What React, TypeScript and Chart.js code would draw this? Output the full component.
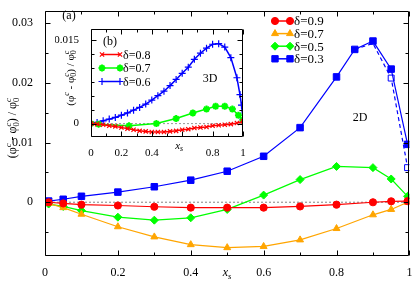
import React, { useEffect, useRef } from 'react';
import { Chart, registerables } from 'chart.js';
import { drawPoint } from 'chart.js/helpers';

Chart.register(...registerables);

const FONT = "'Liberation Serif', 'DejaVu Serif', serif";

// ---------- panel (a): 2D ----------
const xs09 = [0.01, 0.05, 0.1, 0.2, 0.3, 0.4, 0.5, 0.6, 0.7, 0.8, 0.9, 0.95, 0.995];
const d09 = [0, -0.0002, -0.0004, -0.00054, -0.00075, -0.0009, -0.0009, -0.0009, -0.0007, -0.0004, 0, 0.00016, 0.0002];
const xs07 = [0.01, 0.05, 0.1, 0.2, 0.3, 0.4, 0.5, 0.6, 0.7, 0.8, 0.9, 0.95, 0.995];
const d07 = [-0.0002, -0.0009, -0.002, -0.0041, -0.0058, -0.0071, -0.0076, -0.0074, -0.0063, -0.0044, -0.0021, -0.0012, 0];
const xs05 = [0.01, 0.05, 0.1, 0.2, 0.3, 0.4, 0.5, 0.6, 0.7, 0.8, 0.9, 0.95, 0.995];
const d05 = [-0.0003, -0.0007, -0.0014, -0.0025, -0.003, -0.0026, -0.0012, 0.0012, 0.0038, 0.006, 0.0058, 0.0039, 0.001];
const xs03 = [0.01, 0.05, 0.1, 0.2, 0.3, 0.4, 0.5, 0.6, 0.7, 0.8, 0.85, 0.9, 0.95, 0.995];
const d03 = [0.0002, 0.0005, 0.001, 0.0017, 0.0026, 0.0037, 0.0052, 0.0077, 0.0125, 0.021, 0.0256, 0.027, 0.0223, 0.0097];
const xs03b = [0.85, 0.9, 0.95, 0.995];
const d03b = [0.0256, 0.0266, 0.0208, 0.0058];
const zeroX = [0, 1];
const zeroY = [0, 0];

const mainXTicks = [0, 0.1, 0.2, 0.3, 0.4, 0.5, 0.6, 0.7, 0.8, 0.9, 1];
const mainXLabels = ['0', '', '0.2', '', '0.4', '', '0.6', '', '0.8', '', '1'];
const mainYTicks = [-0.005, 0, 0.005, 0.01, 0.015, 0.02, 0.025, 0.03];
const mainYLabels = ['', '0', '', '0.01', '', '0.02', '', '0.03'];
const mainLegend = ['δ=0.9', 'δ=0.7', 'δ=0.5', 'δ=0.3'];

// ---------- panel (b): 3D inset ----------
const in08X = [0, 0.04, 0.08, 0.12, 0.16, 0.2, 0.24, 0.28, 0.32, 0.36, 0.4, 0.44, 0.48, 0.52, 0.56, 0.6, 0.64, 0.68, 0.72, 0.76, 0.8, 0.84, 0.88, 0.92, 0.96, 1.0];
const in08Y = [0, -0.0001, -0.0002, -0.0004, -0.0005, -0.0007, -0.0009, -0.0011, -0.0013, -0.0014, -0.0015, -0.0015, -0.0015, -0.0014, -0.0013, -0.0011, -0.001, -0.0008, -0.0007, -0.0006, -0.0004, -0.0003, -0.0002, -0.0001, 0.0001, 0.0004];
const in07X = [0, 0.05, 0.25, 0.43, 0.56, 0.67, 0.76, 0.82, 0.88, 0.93, 0.97, 1.0];
const in07Y = [0, -0.0001, -0.0004, 0, 0.0009, 0.0019, 0.0026, 0.0031, 0.0031, 0.0026, 0.0015, 0.0006];
const in06X = [0, 0.04, 0.08, 0.12, 0.16, 0.2, 0.24, 0.28, 0.32, 0.36, 0.4, 0.44, 0.48, 0.52, 0.56, 0.6, 0.64, 0.68, 0.72, 0.76, 0.8, 0.84, 0.88, 0.92, 0.96, 0.98, 0.99, 1.0];
const in06Y = [0, 0.0002, 0.0005, 0.0008, 0.0011, 0.0015, 0.0019, 0.0024, 0.0029, 0.0035, 0.0042, 0.005, 0.0058, 0.0068, 0.0079, 0.009, 0.0101, 0.0115, 0.0126, 0.0135, 0.0142, 0.0143, 0.0137, 0.0118, 0.0082, 0.0052, 0.0033, 0.0008];

const inXTicks = [0, 0.1, 0.2, 0.3, 0.4, 0.5, 0.6, 0.7, 0.8, 0.9, 1];
const inXLabels = ['0', '', '0.2', '', '0.4', '', 'x_s', '', '0.8', '', '1'];
const inXMajor = [1, 0, 1, 0, 1, 0, 1, 0, 1, 0, 1];
const inYTicks = [0, 0.0025, 0.005, 0.0075, 0.01, 0.0125, 0.015];
const inYLabels = ['0', '', '', '', '', '', '0.015'];
const inLegend = ['δ=0.8', 'δ=0.7', 'δ=0.6'];

const RED = '#ff0000';
const ORANGE = '#ffa500';
const GREEN = '#00ff00';
const BLUE = '#0000ff';

const pts = (xs: number[], ys: number[]) => xs.map((x, i) => ({ x, y: ys[i] }));

type Seg = [string, string];
function drawRich(ctx: CanvasRenderingContext2D, segs: Seg[], cx: number, cy: number, size: number, rot: number) {
  const small = size * 0.72;
  const fN = `${size}px ${FONT}`;
  const fS = `${small}px ${FONT}`;
  const fSI = `italic ${small}px ${FONT}`;
  const fI = `italic ${size}px ${FONT}`;
  const widthOf = (s: Seg) => {
    const [t, k] = s;
    if (k === 'n') { ctx.font = fN; return ctx.measureText(t).width; }
    if (k === 'i') { ctx.font = fI; return ctx.measureText(t).width; }
    if (k === 'sup') { ctx.font = fSI; return ctx.measureText(t).width; }
    if (k === 'subi') { ctx.font = fSI; return ctx.measureText(t).width; }
    if (k === 'ss') {
      const [a, b] = t.split('|');
      ctx.font = fS; const wa = ctx.measureText(a).width;
      ctx.font = fSI; const wb = ctx.measureText(b).width;
      return Math.max(wa, wb);
    }
    return 0;
  };
  const total = segs.reduce((s, g) => s + widthOf(g), 0);
  ctx.save();
  ctx.translate(cx, cy);
  ctx.rotate(rot);
  ctx.fillStyle = '#000';
  ctx.textBaseline = 'alphabetic';
  ctx.textAlign = 'left';
  let x = -total / 2;
  const base = size * 0.33;
  for (const g of segs) {
    const [t, k] = g;
    const w = widthOf(g);
    if (k === 'n') { ctx.font = fN; ctx.fillText(t, x, base); }
    else if (k === 'i') { ctx.font = fI; ctx.fillText(t, x, base); }
    else if (k === 'sup') { ctx.font = fSI; ctx.fillText(t, x, base - size * 0.42); }
    else if (k === 'subi') { ctx.font = fSI; ctx.fillText(t, x, base + size * 0.25); }
    else if (k === 'ss') {
      const [a, b] = t.split('|');
      ctx.font = fS; ctx.fillText(a, x, base + size * 0.25);
      ctx.font = fSI; ctx.fillText(b, x, base - size * 0.42);
    }
    x += w;
  }
  ctx.restore();
}

const yTitle: Seg[] = [['(φ', 'n'], ['c', 'sup'], [' - φ', 'n'], ['0|c', 'ss'], [') / φ', 'n'], ['0|c', 'ss']];
const xTitle: Seg[] = [['x', 'i'], ['s', 'subi']];

function frame(chart: any, xt: number[], xMaj: boolean[], yt: number[], yMaj: boolean[], maj: number, min: number) {
  const { ctx, chartArea: a } = chart;
  const sx = chart.scales.x;
  const sy = chart.scales.y;
  ctx.save();
  ctx.strokeStyle = '#000';
  ctx.lineWidth = 1;
  const L = Math.round(a.left) + 0.5;
  const R = Math.round(a.right) - 0.5;
  const T = Math.round(a.top) + 0.5;
  const B = Math.round(a.bottom) - 0.5;
  ctx.beginPath();
  ctx.rect(L, T, R - L, B - T);
  xt.forEach((v, i) => {
    const p = Math.round(sx.getPixelForValue(v)) + 0.5;
    const len = xMaj[i] ? maj : min;
    ctx.moveTo(p, B); ctx.lineTo(p, B - len);
    ctx.moveTo(p, T); ctx.lineTo(p, T + len);
  });
  yt.forEach((v, i) => {
    const p = Math.round(sy.getPixelForValue(v)) + 0.5;
    const len = yMaj[i] ? maj : min;
    ctx.moveTo(L, p); ctx.lineTo(L + len, p);
    ctx.moveTo(R, p); ctx.lineTo(R - len, p);
  });
  ctx.stroke();
  ctx.restore();
}

type LegItem = { label: string; color: string; style: string; radius: number; bw: number; fill: boolean };
function legend(ctx: CanvasRenderingContext2D, items: LegItem[], x0: number, x1: number, tx: number, y0: number, dy: number, size: number) {
  items.forEach((it, i) => {
    const y = y0 + i * dy;
    ctx.save();
    ctx.strokeStyle = it.color;
    ctx.lineWidth = 1.5;
    ctx.beginPath(); ctx.moveTo(x0, y); ctx.lineTo(x1, y); ctx.stroke();
    ctx.fillStyle = it.fill ? it.color : '#fff';
    ctx.lineWidth = it.bw;
    drawPoint(ctx, { pointStyle: it.style as any, radius: it.radius, rotation: 0, borderWidth: it.bw } as any, x0, y);
    drawPoint(ctx, { pointStyle: it.style as any, radius: it.radius, rotation: 0, borderWidth: it.bw } as any, x1, y);
    ctx.fillStyle = '#000';
    ctx.font = `${size}px ${FONT}`;
    ctx.textBaseline = 'middle';
    ctx.textAlign = 'left';
    ctx.fillText(it.label, tx, y + 1);
    ctx.restore();
  });
}

function lineDs(xs: number[], ys: number[], color: string, style: string, radius: number, extra: any = {}) {
  return {
    data: pts(xs, ys),
    borderColor: color,
    backgroundColor: color,
    borderWidth: 1.2,
    pointStyle: style,
    pointRadius: radius,
    pointBorderWidth: 1,
    pointBorderColor: color,
    pointBackgroundColor: color,
    tension: 0,
    ...extra,
  };
}

export default function App() {
  const mainRef = useRef<HTMLCanvasElement>(null);
  const insetRef = useRef<HTMLCanvasElement>(null);

  useEffect(() => {
    const tickFont = { family: FONT, size: 12 };
    const mainPlugin = {
      id: 'mainDeco',
      afterDraw(chart: any) {
        const ctx = chart.ctx as CanvasRenderingContext2D;
        frame(chart, mainXTicks, mainXLabels.map((l) => l !== ''), mainYTicks, mainYLabels.map((l) => l !== ''), 5, 3);
        drawRich(ctx, yTitle, 12, 128, 12, -Math.PI / 2);
        drawRich(ctx, xTitle, 227, 272, 12, 0);
        ctx.save();
        ctx.fillStyle = '#000';
        ctx.font = `12px ${FONT}`;
        ctx.textAlign = 'center';
        ctx.textBaseline = 'middle';
        ctx.fillText('(a)', 69, 16);
        ctx.fillText('2D', 360, 118);
        ctx.restore();
        legend(ctx, [
          { label: mainLegend[0], color: RED, style: 'circle', radius: 3.6, bw: 1, fill: true },
          { label: mainLegend[1], color: ORANGE, style: 'triangle', radius: 4, bw: 1, fill: true },
          { label: mainLegend[2], color: GREEN, style: 'rectRot', radius: 4, bw: 1, fill: true },
          { label: mainLegend[3], color: BLUE, style: 'rect', radius: 4.5, bw: 1, fill: true },
        ], 275, 290, 294, 21, 12.6, 13);
      },
    };
    const main = new Chart(mainRef.current as HTMLCanvasElement, {
      type: 'line',
      data: {
        datasets: [
          lineDs(xs09, d09, RED, 'circle', 3.6),
          lineDs(xs07, d07, ORANGE, 'triangle', 4),
          lineDs(xs05, d05, GREEN, 'rectRot', 4),
          lineDs(xs03, d03, BLUE, 'rect', 4.6),
          lineDs(xs03b, d03b, BLUE, 'rect', 4.2, { borderDash: [4, 3], pointBackgroundColor: '#fff', pointRadius: [0, 0, 4.2, 4.2] }),
          lineDs(zeroX, zeroY, '#999999', 'circle', 0, { borderDash: [2, 2], borderWidth: 1.2 }),
        ] as any,
      },
      options: {
        animation: false,
        responsive: false,
        devicePixelRatio: 1,
        layout: { padding: { left: 0, right: 5, top: 1, bottom: 0 } },
        plugins: { legend: { display: false }, tooltip: { enabled: false } },
        scales: {
          x: {
            type: 'linear', min: 0, max: 1,
            grid: { display: false }, border: { display: false },
            afterBuildTicks: (s: any) => { s.ticks = mainXTicks.map((v) => ({ value: v })); },
            afterFit: (s: any) => { s.height = 27; },
            ticks: {
              autoSkip: false, maxRotation: 0, color: '#000', font: tickFont, padding: 2,
              callback: (_v: any, i: number) => mainXLabels[i],
            },
          },
          y: {
            type: 'linear', min: -0.009, max: 0.032,
            grid: { display: false }, border: { display: false },
            afterBuildTicks: (s: any) => { s.ticks = mainYTicks.map((v) => ({ value: v })); },
            afterFit: (s: any) => { s.width = 45; },
            ticks: {
              autoSkip: false, color: '#000', font: tickFont, padding: 4,
              callback: (_v: any, i: number) => mainYLabels[i],
            },
          },
        },
      } as any,
      plugins: [mainPlugin],
    });

    const insetPlugin = {
      id: 'insetDeco',
      beforeDraw(chart: any) {
        const { ctx, chartArea: a } = chart;
        ctx.save();
        ctx.fillStyle = '#fff';
        ctx.fillRect(a.left, a.top, a.right - a.left, a.bottom - a.top);
        ctx.restore();
      },
      afterDraw(chart: any) {
        const ctx = chart.ctx as CanvasRenderingContext2D;
        frame(chart, inXTicks, inXMajor.map((m) => m === 1), inYTicks, inYLabels.map((l) => l !== ''), 5, 3);
        drawRich(ctx, yTitle, 15, 60, 11, -Math.PI / 2);
        const px = chart.scales.x.getPixelForValue(inXTicks[inXLabels.indexOf('x_s')]);
        drawRich(ctx, xTitle, px - 3, 127, 11, 0);
        ctx.save();
        ctx.fillStyle = '#000';
        ctx.font = `12px ${FONT}`;
        ctx.textAlign = 'center';
        ctx.textBaseline = 'middle';
        ctx.fillText('(b)', 55, 24);
        ctx.fillText('3D', 155, 61);
        ctx.restore();
        legend(ctx, [
          { label: inLegend[0], color: RED, style: 'crossRot', radius: 3, bw: 1.2, fill: true },
          { label: inLegend[1], color: GREEN, style: 'star', radius: 3.5, bw: 2, fill: true },
          { label: inLegend[2], color: BLUE, style: 'cross', radius: 3.5, bw: 1.2, fill: true },
        ], 47, 65, 68, 36.5, 13.5, 12);
      },
    };
    const inset = new Chart(insetRef.current as HTMLCanvasElement, {
      type: 'line',
      data: {
        datasets: [
          lineDs(in08X, in08Y, RED, 'crossRot', 3, { borderWidth: 1.5, pointBorderWidth: 1.2 }),
          lineDs(in07X, in07Y, GREEN, 'star', 3.5, { borderWidth: 1.5, pointBorderWidth: 2 }),
          lineDs(in06X, in06Y, BLUE, 'cross', 3.5, { borderWidth: 1.5, pointBorderWidth: 1.2 }),
          lineDs(zeroX, zeroY, '#999999', 'circle', 0, { borderDash: [2, 2], borderWidth: 1 }),
        ] as any,
      },
      options: {
        animation: false,
        responsive: false,
        devicePixelRatio: 1,
        layout: { padding: { left: 0, right: 7, top: 7, bottom: 0 } },
        plugins: { legend: { display: false }, tooltip: { enabled: false } },
        scales: {
          x: {
            type: 'linear', min: 0, max: 1,
            grid: { display: false }, border: { display: false },
            afterBuildTicks: (s: any) => { s.ticks = inXTicks.map((v) => ({ value: v })); },
            afterFit: (s: any) => { s.height = 21; },
            ticks: {
              autoSkip: false, maxRotation: 0, color: '#000', font: { family: FONT, size: 11 }, padding: 2,
              callback: (_v: any, i: number) => (inXLabels[i] === 'x_s' ? '' : inXLabels[i]),
            },
          },
          y: {
            type: 'linear', min: -0.0024, max: 0.017,
            grid: { display: false }, border: { display: false },
            afterBuildTicks: (s: any) => { s.ticks = inYTicks.map((v) => ({ value: v })); },
            afterFit: (s: any) => { s.width = 36; },
            ticks: {
              autoSkip: false, color: '#000', font: { family: FONT, size: 11 }, padding: 4,
              callback: (_v: any, i: number) => inYLabels[i],
            },
          },
        },
      } as any,
      plugins: [insetPlugin],
    });

    return () => {
      main.destroy();
      inset.destroy();
    };
  }, []);

  return (
    <div style={{ position: 'absolute', left: 0, top: 0, width: 415, height: 283, background: '#fff' }}>
      <canvas ref={mainRef} width={415} height={283} style={{ position: 'absolute', left: 0, top: 0, width: 415, height: 283 }} />
      <canvas ref={insetRef} width={195} height={140} style={{ position: 'absolute', left: 55, top: 18, width: 195, height: 140 }} />
    </div>
  );
}
